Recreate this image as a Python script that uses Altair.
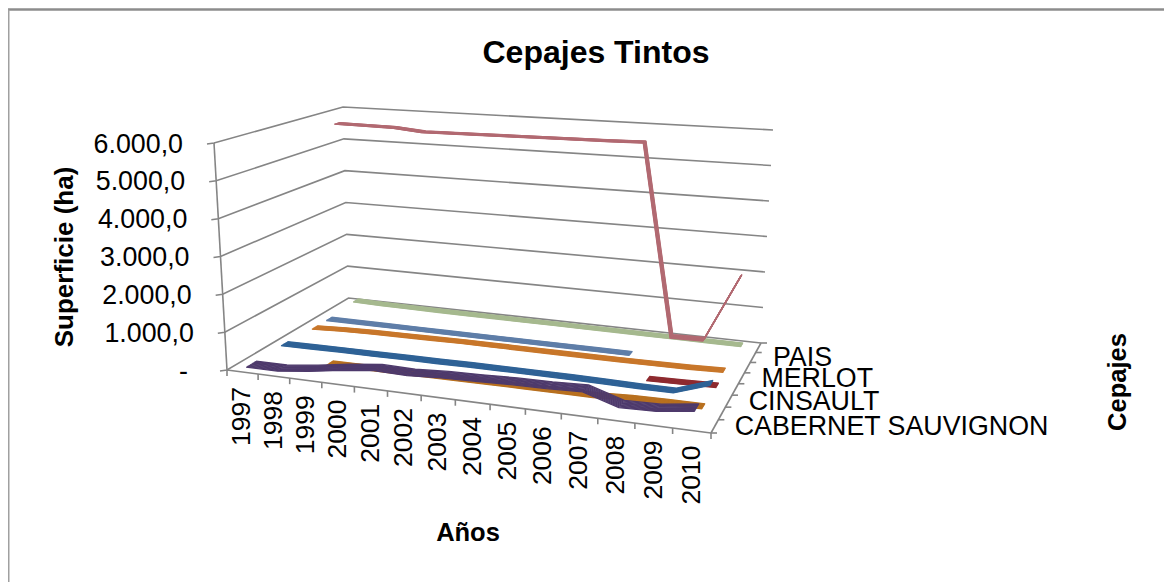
import altair as alt
import numpy as np
import pandas as pd

YEARS = list(range(1997, 2011))
SERIES = [
    # back to front: (name, slot, colour, half-width of strip, values)
    ("SERIE 8", 7, "#A6B98F", 0.024, [90, 70, 60, 55, 50, 50, 45, 45, 40, 40, 35, 35, 30, 30]),
    ("PAIS", 6, "#B26A72", 0.024, [5700, 5690, 5680, 5600, 5610, 5620, 5630, 5640, 5650, 5660, 5680, 330, 350, 2180]),
    ("SERIE 6", 5, "#5F7EA8", 0.024, [20, 20, 20, 20, 20, 20, 20, 20, 20, 20, 20, None, None, None]),
    ("MERLOT", 4, "#C8772B", 0.024, [20, 60, 80, 90, 100, 110, 110, 110, 110, 110, 115, 120, 130, 155]),
    ("SERIE 4", 3, "#8E2B30", 0.024, [None] * 11 + [10, 25, 50]),
    ("CINSAULT", 2, "#2F6296", 0.026, [80, 90, 100, 100, 110, 110, 120, 120, 120, 120, 110, 100, 100, 400]),
    ("SERIE 2", 1, "#B8701F", 0.026, [None, None, 30, 35, 40, 45, 50, 55, 60, 60, 60, 100, 110, 115]),
    ("CABERNET SAUVIGNON", 0, "#4E3A6C", 0.036, [70, 70, 170, 300, 400, 380, 430, 450, 480, 490, 520, 250, 270, 390]),
]
N_SLOTS = 8
VALUE_TICKS = [0, 1000, 2000, 3000, 4000, 5000, 6000]
VALUE_LABELS = ["-", "1.000,0", "2.000,0", "3.000,0", "4.000,0", "5.000,0", "6.000,0"]
DEPTH_LABELS = {0: "CABERNET SAUVIGNON", 2: "CINSAULT", 4: "MERLOT", 6: "PAIS"}
GRAY = "#858585"
FONT = "Liberation Sans"

# Projection of the 3D box: floor and top planes as homographies
FLOOR = [(227, 370), (711, 433), (761, 343), (348.5, 298)]
TOP = [(214, 143), (735, 178), (773, 130), (343, 107)]


def homography(q):
    (x0, y0), (x1, y1), (x2, y2), (x3, y3) = q
    dx1, dx2, sx = x1 - x2, x3 - x2, x0 - x1 + x2 - x3
    dy1, dy2, sy = y1 - y2, y3 - y2, y0 - y1 + y2 - y3
    det = dx1 * dy2 - dx2 * dy1
    g = (sx * dy2 - dx2 * sy) / det
    h = (dx1 * sy - sx * dy1) / det
    return (x1 - x0 + g * x1, x3 - x0 + h * x3, x0,
            y1 - y0 + g * y1, y3 - y0 + h * y3, y0, g, h)


HF, HT = homography(FLOOR), homography(TOP)


def apply(H, u, d):
    a, b, c, e, f, k, g, h = H
    w = g * u + h * d + 1
    return (a * u + b * d + c) / w, (e * u + f * d + k) / w


def project(u, d, v=0.0):
    fx, fy = apply(HF, u, d)
    tx, ty = apply(HT, u, d)
    t = v / 6000.0
    return fx + (tx - fx) * t, fy + (ty - fy) * t


X0, Y0 = 8, 8
W, H = 1156, 574
x_enc = alt.X("px:Q", scale=alt.Scale(domain=[X0, X0 + W], nice=False, zero=False), axis=None)
y_enc = alt.Y("py:Q", scale=alt.Scale(domain=[Y0 + H, Y0], nice=False, zero=False), axis=None)


def lines(rows, **mark):
    df = pd.DataFrame(rows, columns=["k", "o", "px", "py"])
    return alt.Chart(df).mark_line(**mark).encode(
        x=x_enc, y=y_enc, detail="k:N", order="o:Q")


def texts(rows, **mark):
    df = pd.DataFrame(rows, columns=["px", "py", "t"])
    return alt.Chart(df).mark_text(font=FONT, color="#000000", **mark).encode(
        x=x_enc, y=y_enc, text="t:N")


# Outer frame: only the top and left edges are visible
edge_top = lines([("t", 0, X0, Y0 + 1.5), ("t", 1, X0 + W, Y0 + 1.5)], color="#8C8C8C", strokeWidth=2.4)
edge_left = lines([("l", 0, X0 + 0.5, Y0 + 1.5), ("l", 1, X0 + 0.5, Y0 + H)], color="#A0A0A0", strokeWidth=2)

# Frame of the box: walls, floor and ticks
grid = []
def add(key, pts):
    for i, (px, py) in enumerate(pts):
        grid.append((key, i, px, py))

for v in VALUE_TICKS:
    fl, bl, br = project(0, 0, v), project(0, 1, v), project(1, 1, v)
    add(f"g{v}", [(fl[0] - 7, fl[1] + 1), fl, bl, br])
add("axis", [project(0, 0, 0), project(0, 0, 6000)])
add("front", [project(0, 0), project(1, 0)])
add("right", [project(1, 0), project(1, 1)])
for i in range(15):
    p = project(i / 14, 0)
    add(f"xt{i}", [p, (p[0], p[1] + 6)])
for j in range(N_SLOTS + 1):
    p = project(1, j / N_SLOTS)
    add(f"dt{j}", [p, (p[0] + 6, p[1])])
frame = lines(grid, color=GRAY, strokeWidth=1.6)

# Ribbons: each series is a thin strip across its depth slot
ribbons = []
for name, slot, colour, half, values in SERIES:
    rows = []
    for off in np.linspace(-half, half, 11):
        d = (slot + 0.5) / N_SLOTS + off
        for i, val in enumerate(values):
            if val is None:
                continue
            px, py = project((i + 0.5) / 14, d, val)
            rows.append((f"{name}{off:.4f}", i, px, py))
    ribbons.append(lines(rows, color=colour, strokeWidth=1.3, strokeJoin="round", strokeCap="butt"))

# Tick labels
val_rows = []
for v, lab in zip(VALUE_TICKS, VALUE_LABELS):
    p = project(0, 0, v)
    val_rows.append((p[0] - (39 if v == 0 else 31), p[1] + 1.5, lab))
val_text = texts(val_rows, fontSize=26.8, align="right", baseline="middle")

year_rows = [(project((i + 0.5) / 14, 0)[0], project((i + 0.5) / 14, 0)[1] + 15, str(y))
             for i, y in enumerate(YEARS)]
year_text = texts(year_rows, fontSize=26.5, angle=270, align="right", baseline="middle")

depth_rows = []
for slot, lab in DEPTH_LABELS.items():
    p = project(1, (slot + 0.5) / N_SLOTS)
    depth_rows.append((p[0] + 20, p[1] + 1, lab))
depth_text = texts(depth_rows, fontSize=26.8, align="left", baseline="middle")

ytitle = texts([(65, 257, "Superficie (ha)")], fontSize=26, fontWeight="bold", angle=270,
               align="center", baseline="middle")
ztitle = texts([(1118, 382, "Cepajes")], fontSize=25.5, fontWeight="bold", angle=270,
               align="center", baseline="middle")
xtitle = texts([(468, 533, "Años")], fontSize=25.5, fontWeight="bold",
               align="center", baseline="middle")

chart = alt.layer(edge_top, edge_left, frame, *ribbons, val_text, year_text, depth_text,
                  ytitle, ztitle, xtitle).properties(
    width=W, height=H, padding=0, background="#FFFFFF", autosize=alt.AutoSizeParams(type="none"),
    title=alt.TitleParams("Cepajes Tintos", font=FONT, fontSize=32, fontWeight="bold", color="#000000",
                          anchor="middle", dx=10, dy=69),
).configure_view(strokeWidth=0)

chart.save("out.html", embed_options={"renderer": "svg", "actions": False})
